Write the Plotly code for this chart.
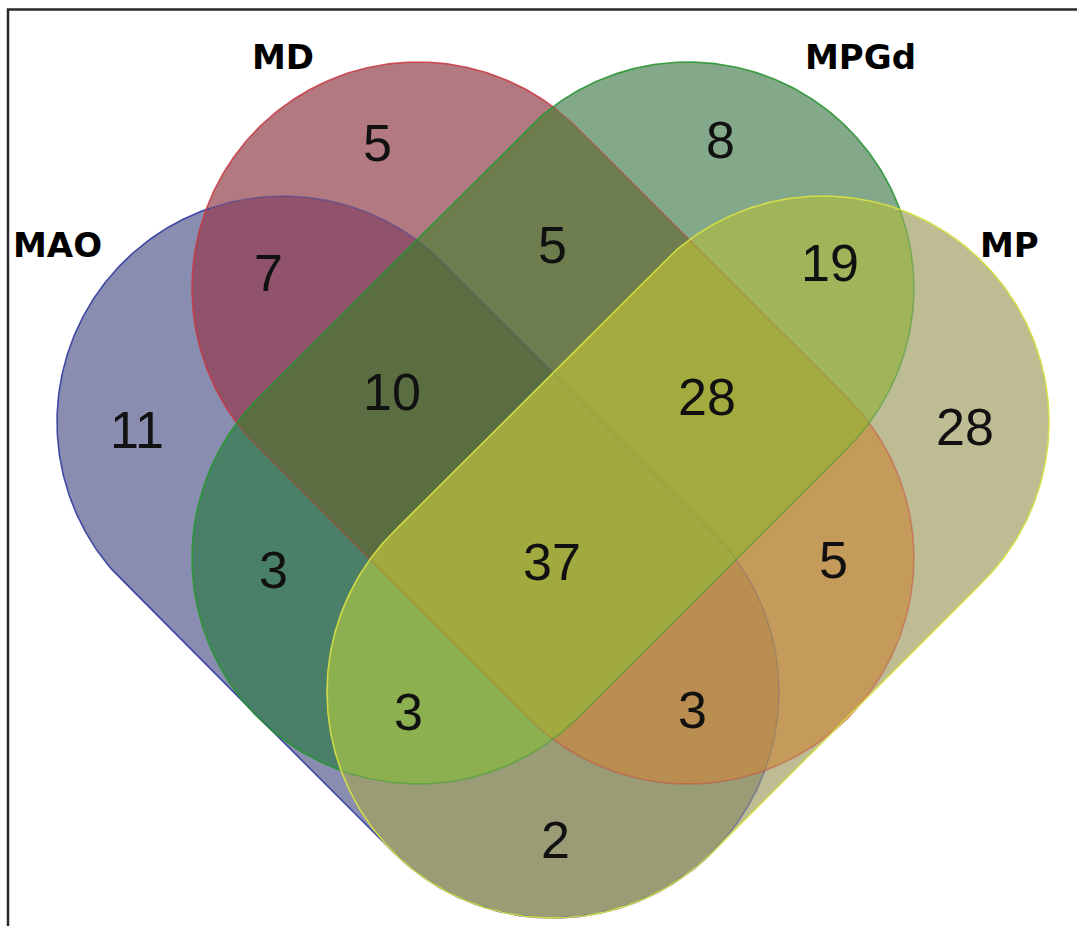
import numpy as np
import plotly.graph_objects as go

W, H = 1077, 926

# ---------------- data ----------------
set_names = ["MAO", "MD", "MPGd", "MP"]
region_sets = [
    (0,), (1,), (2,), (3,),
    (0, 1), (0, 2), (0, 3), (1, 2), (1, 3), (2, 3),
    (0, 1, 2), (0, 1, 3), (0, 2, 3), (1, 2, 3),
    (0, 1, 2, 3),
]
region_counts = [11, 5, 8, 28, 7, 3, 2, 5, 5, 19, 10, 3, 3, 28, 37]

# ---------------- layout / style ----------------
X0, R = 553.0, 226.0
capsule_ends = [
    ((X0 - 270, 422), (X0, 692)),        # MAO
    ((X0 - 135, 288), (X0 + 135, 558)),  # MD
    ((X0 + 135, 288), (X0 - 135, 558)),  # MPGd
    ((X0 + 270, 422), (X0, 692)),        # MP
]
outline_rgb = [(50, 60, 160), (200, 55, 65), (40, 150, 50), (212, 222, 70)]
outline_alpha = [0.9, 0.85, 0.9, 0.95]
cover_fade = 0.45
region_colors = {
    (0,): "#898db0", (1,): "#b27a80", (2,): "#84a88a", (3,): "#bebc92",
    (0, 1): "#91526c", (0, 2): "#4a8068", (0, 3): "#9a9c76",
    (1, 2): "#6e7d4e", (1, 3): "#c49b5a", (2, 3): "#a0b45a",
    (0, 1, 2): "#5a6e41", (0, 1, 3): "#b98e50", (0, 2, 3): "#8caf50",
    (1, 2, 3): "#a3aa3e", (0, 1, 2, 3): "#a0aa3e",
}
count_pos = {
    (0,): (137, 430), (1,): (377, 143), (2,): (720, 140), (3,): (965, 427),
    (0, 1): (268, 273), (0, 2): (273, 570), (0, 3): (555, 840),
    (1, 2): (552, 245), (1, 3): (833, 560), (2, 3): (830, 263),
    (0, 1, 2): (392, 392), (0, 1, 3): (692, 710), (0, 2, 3): (408, 712),
    (1, 2, 3): (707, 397), (0, 1, 2, 3): (552, 562),
}
name_pos = [(57, 245), (283, 57), (860, 57), (1009, 245)]


def capsule(p1, p2, r, n=140):
    p1 = np.array(p1, float); p2 = np.array(p2, float)
    d = p2 - p1
    th = np.arctan2(d[1], d[0])
    a2 = np.linspace(th - np.pi / 2, th + np.pi / 2, n)
    a1 = np.linspace(th + np.pi / 2, th + 3 * np.pi / 2, n)
    c2 = p2 + r * np.c_[np.cos(a2), np.sin(a2)]
    c1 = p1 + r * np.c_[np.cos(a1), np.sin(a1)]
    pts = np.vstack([c2, c1])
    x, y = pts[:, 0], pts[:, 1]
    area = 0.5 * np.sum(x * np.roll(y, -1) - np.roll(x, -1) * y)
    if area < 0:
        pts = pts[::-1]
    return pts


def densify(pts, step=3.0):
    out = []
    m = len(pts)
    for i in range(m):
        a, b = pts[i], pts[(i + 1) % m]
        k = max(1, int(np.ceil(np.hypot(*(b - a)) / step)))
        for t in np.arange(k) / k:
            out.append(a + (b - a) * t)
    out.append(pts[0])
    return np.array(out)


def inside_capsule(p, ends, r):
    a = np.array(ends[0], float); b = np.array(ends[1], float)
    ab = b - a
    t = np.clip(np.dot(p - a, ab) / np.dot(ab, ab), 0, 1)
    return np.hypot(*(p - (a + t * ab))) < r - 0.5


def clip(subject, clipper):
    def inside(p, a, b):
        return (b[0] - a[0]) * (p[1] - a[1]) - (b[1] - a[1]) * (p[0] - a[0]) >= 0

    def inter(s, e, a, b):
        dc = a - b
        dp = s - e
        n1 = a[0] * b[1] - a[1] * b[0]
        n2 = s[0] * e[1] - s[1] * e[0]
        den = dc[0] * dp[1] - dc[1] * dp[0]
        return np.array([(n1 * dp[0] - n2 * dc[0]) / den,
                         (n1 * dp[1] - n2 * dc[1]) / den])

    out = [np.array(p) for p in subject]
    m = len(clipper)
    for i in range(m):
        a, b = clipper[i], clipper[(i + 1) % m]
        inp = out
        out = []
        if not inp:
            break
        s = inp[-1]
        for e in inp:
            if inside(e, a, b):
                if not inside(s, a, b):
                    out.append(inter(s, e, a, b))
                out.append(e)
            elif inside(s, a, b):
                out.append(inter(s, e, a, b))
            s = e
    return np.array(out)


caps = [capsule(p1, p2, R) for p1, p2 in capsule_ends]

fig = go.Figure()

# filled regions: paint intersections in order of increasing size
for key in sorted(region_sets, key=len):
    poly = caps[key[0]]
    for k in key[1:]:
        poly = clip(poly, caps[k])
    if len(poly) < 3:
        continue
    xs = list(poly[:, 0]) + [poly[0, 0]]
    ys = list(poly[:, 1]) + [poly[0, 1]]
    fig.add_trace(go.Scatter(x=xs, y=ys, mode="lines", fill="toself",
                             fillcolor=region_colors[key],
                             line=dict(width=0, color=region_colors[key]),
                             hoverinfo="skip", showlegend=False))

# outlines: faded where later (upper) sets cover them
for i, cap in enumerate(caps):
    pts = densify(cap)
    cover = np.array([sum(inside_capsule(p, capsule_ends[j], R)
                          for j in range(i + 1, 4)) for p in pts])
    start = 0
    n = len(pts)
    while start < n - 1:
        end = start
        while end + 1 < n and cover[end + 1] == cover[start]:
            end += 1
        seg = pts[start:min(end + 2, n)]
        alpha = outline_alpha[i] * (cover_fade ** cover[start])
        r_, g_, b_ = outline_rgb[i]
        fig.add_trace(go.Scatter(x=seg[:, 0], y=seg[:, 1], mode="lines",
                                 line=dict(width=1.6,
                                           color=f"rgba({r_},{g_},{b_},{alpha:.3f})"),
                                 hoverinfo="skip", showlegend=False))
        start = end + 1

# counts
for key, cnt in zip(region_sets, region_counts):
    x, y = count_pos[key]
    fig.add_annotation(x=x, y=y, text=str(cnt), showarrow=False,
                       font=dict(family="Liberation Sans, Arial, sans-serif",
                                 size=52, color="#111111"),
                       xanchor="center", yanchor="middle")

# set names
for name, (x, y) in zip(set_names, name_pos):
    fig.add_annotation(x=x, y=y, text=name, showarrow=False,
                       font=dict(family="DejaVu Sans, Verdana, sans-serif",
                                 size=34, color="#000000", weight="bold"),
                       xanchor="center", yanchor="middle")

# frame (left and top edges)
fig.add_shape(type="path", path=f"M 8,{H + 10} L 8,9.5 L {W + 10},9.5",
              line=dict(color="#2a2a2a", width=2.5), xref="x", yref="y",
              layer="above")

fig.update_xaxes(range=[0, W], visible=False, fixedrange=True)
fig.update_yaxes(range=[H, 0], visible=False, fixedrange=True)
fig.update_layout(width=W, height=H, margin=dict(l=0, r=0, t=0, b=0),
                  paper_bgcolor="white", plot_bgcolor="white",
                  showlegend=False)

fig.write_html("out.html", config={"displayModeBar": False},
               post_script="document.body.style.margin='0';document.body.style.overflow='hidden';")
